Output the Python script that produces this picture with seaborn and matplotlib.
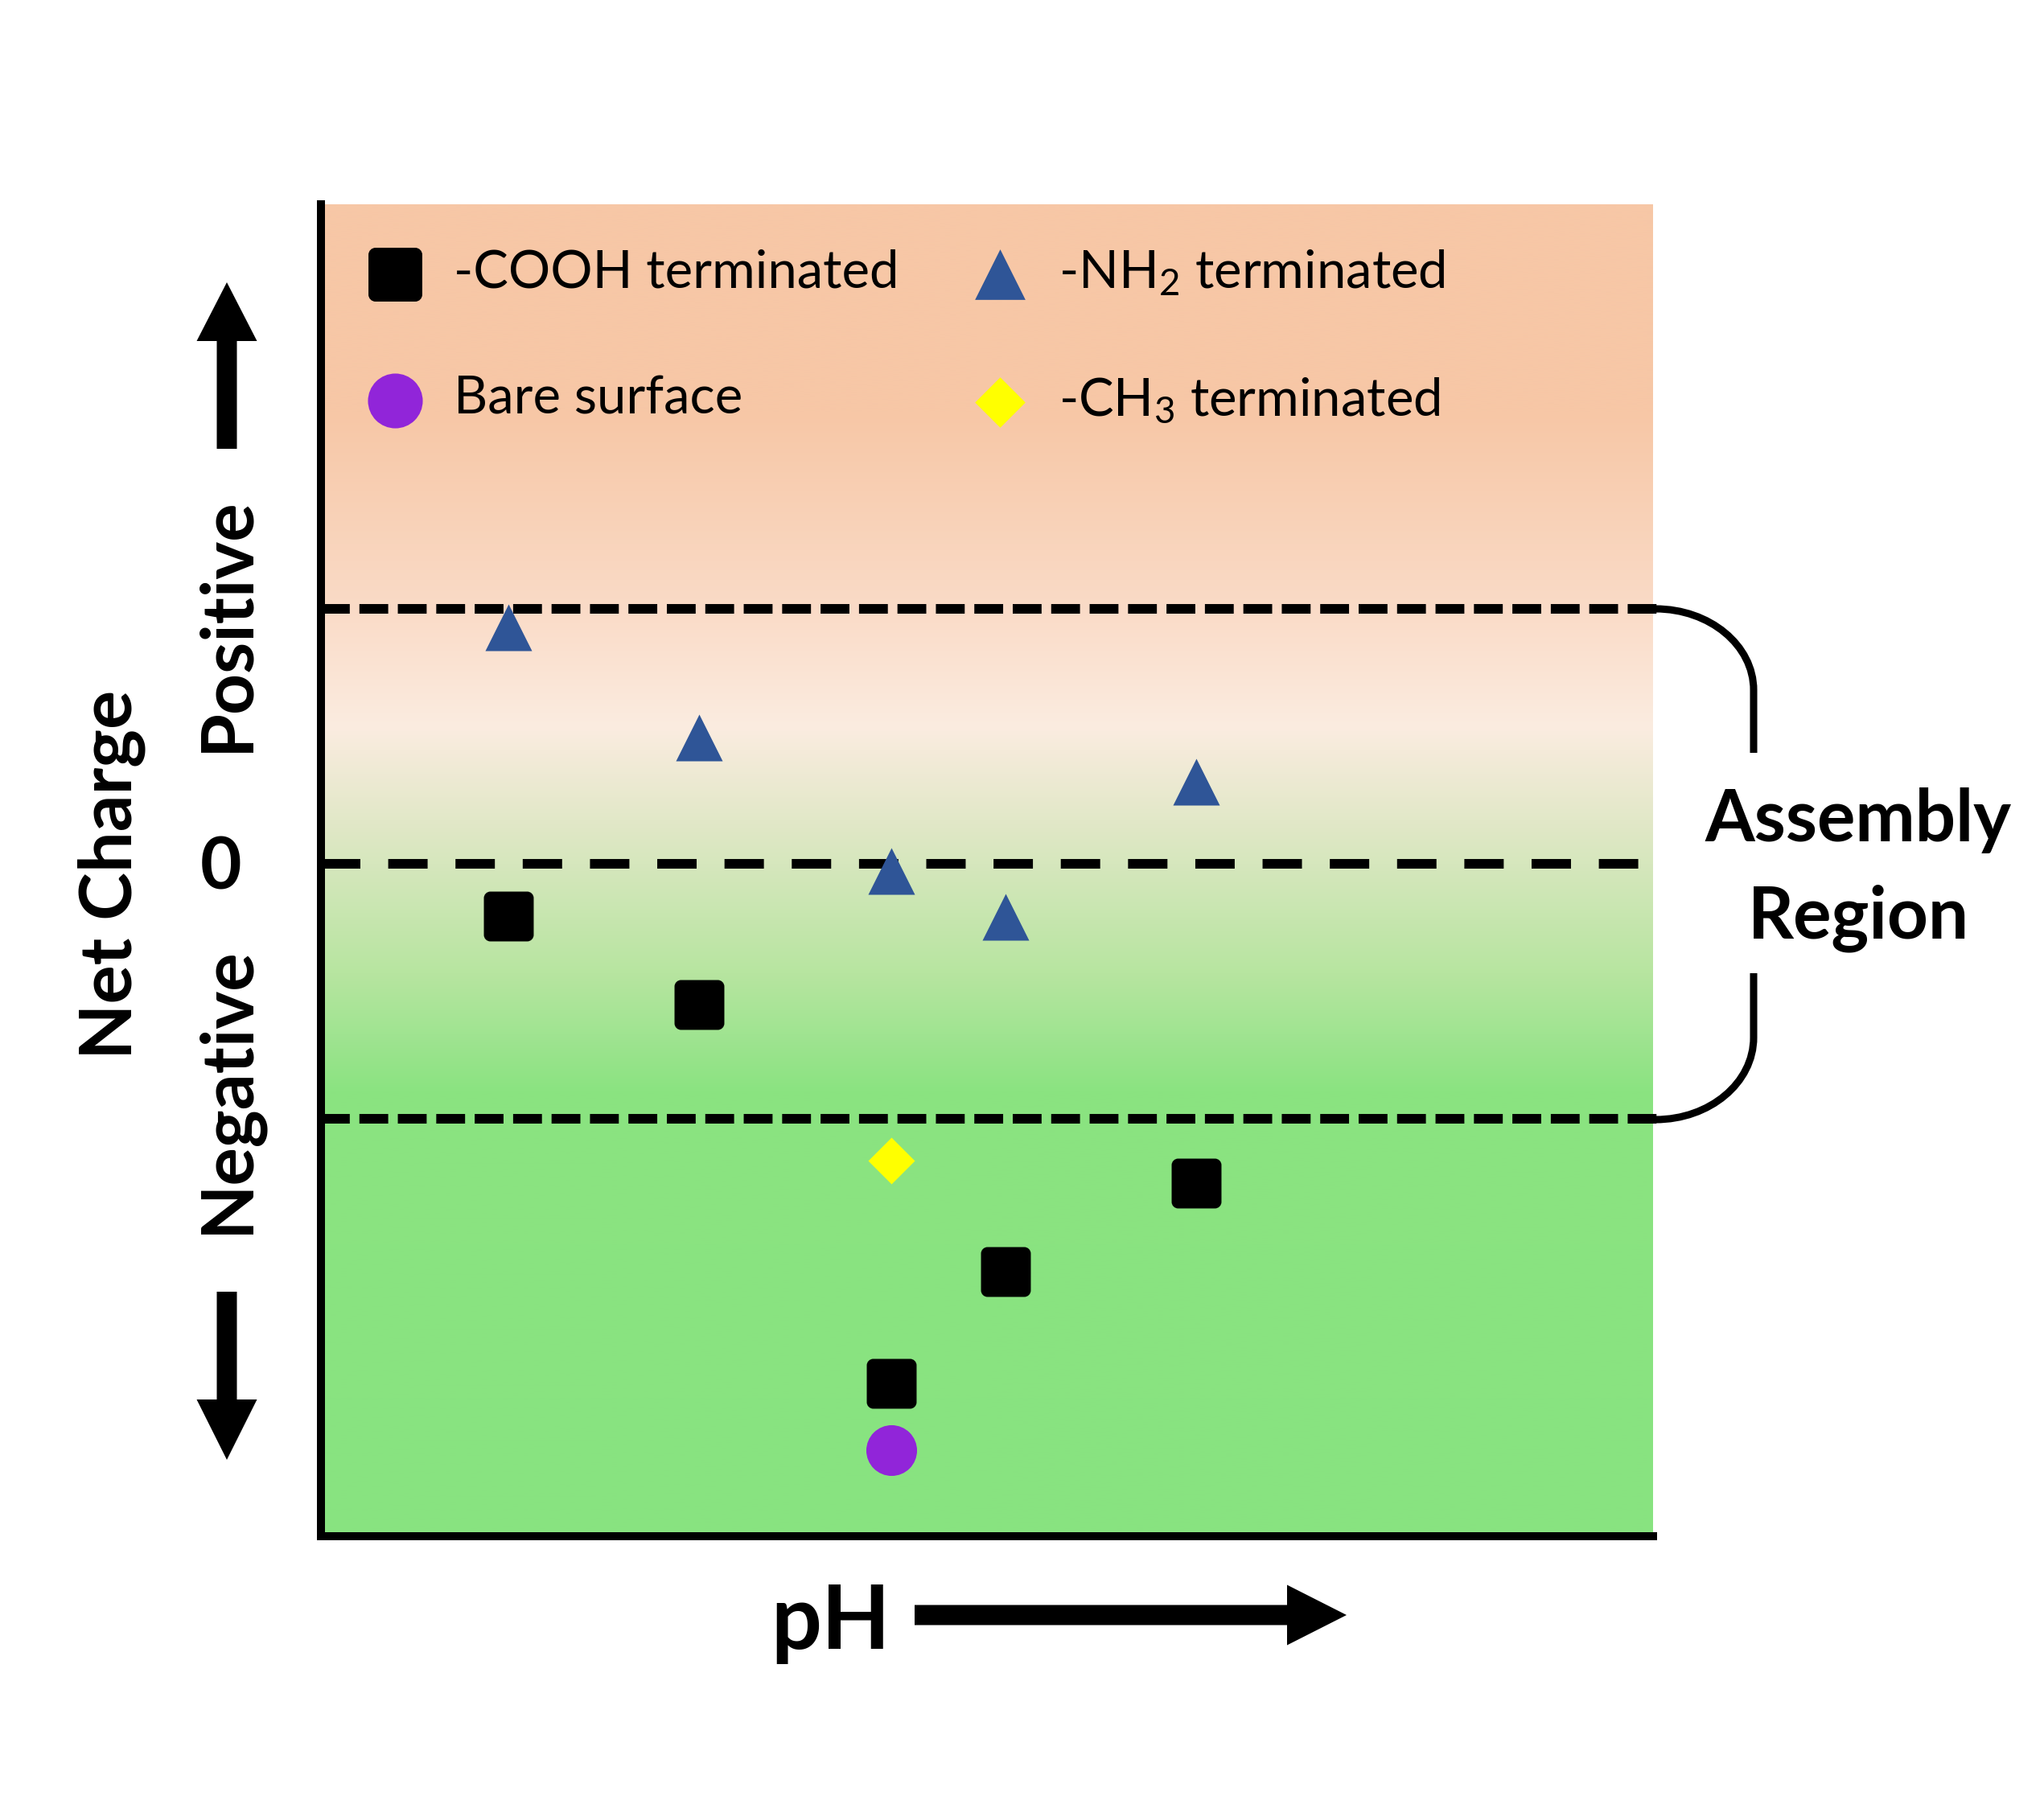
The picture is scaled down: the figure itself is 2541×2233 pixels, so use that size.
import numpy as np
import matplotlib
matplotlib.use("Agg")
import matplotlib.pyplot as plt
import seaborn as sns
from matplotlib.path import Path
from matplotlib.patches import PathPatch, FancyArrow

# ---------------- data ----------------
cooh_x = [1.41, 2.84, 4.28, 5.14, 6.57]
cooh_y = [-0.205, -0.552, -2.038, -1.599, -1.252]
nh2_x = [1.41, 2.84, 4.28, 5.14, 6.57]
nh2_y = [0.927, 0.495, -0.028, -0.207, 0.322]
bare_x = [4.28]
bare_y = [-2.301]
ch3_x = [4.28]
ch3_y = [-1.164]
ref_lines = [1.0, 0.0, -1.0]
labels = ["-COOH terminated", "Bare surface", r"-NH$_2$ terminated", r"-CH$_3$ terminated"]

# background gradient stops (y in data units, rgb)
grad_y = [2.60, 1.77, 1.0, 0.536, 0.17, 0.0, -0.43, -0.67, -0.89, -2.70]
grad_rgb = [(247, 199, 166), (247, 199, 166), (250, 219, 199), (251, 236, 224),
            (226, 232, 200), (214, 231, 189), (183, 229, 160), (160, 228, 145),
            (139, 227, 129), (136, 227, 128)]

W, H = 2541, 2233
DPI = 100

sns.set_theme(style="white")
plt.rcParams["font.family"] = ["Lato", "DejaVu Sans"]
plt.rcParams["text.color"] = "black"
plt.rcParams["mathtext.fontset"] = "custom"
plt.rcParams["mathtext.rm"] = "Lato"
plt.rcParams["mathtext.it"] = "Lato:italic"
plt.rcParams["mathtext.bf"] = "Lato:bold"
plt.rcParams["mathtext.default"] = "regular"

fig = plt.figure(figsize=(W / DPI, H / DPI), dpi=DPI)
fig.patch.set_facecolor("white")

L, R, T, B = 399, 2055, 254, 1910
ax = fig.add_axes([L / W, 1 - B / H, (R - L) / W, (B - T) / H])
ylo, yhi = (1074 - B) / 317.0, (1074 - T) / 317.0
ax.set_xlim(0, 10)
ax.set_ylim(ylo, yhi)

# gradient background
yy = np.linspace(yhi, ylo, 600)
gy = np.array(grad_y)[::-1]
cols = np.array(grad_rgb, dtype=float)[::-1] / 255.0
img = np.stack([np.interp(yy, gy, cols[:, c]) for c in range(3)], axis=-1)[:, None, :]
ax.imshow(img, extent=[0, 10, ylo, yhi], aspect="auto", zorder=0, interpolation="bilinear")

# dashed reference lines
ax.axhline(ref_lines[0], xmin=0, xmax=1.003, color="black", lw=8.6,
           linestyle=(0, (3.0, 1.0)), clip_on=False, zorder=2)
ax.axhline(ref_lines[1], xmin=0, xmax=0.99, color="black", lw=8.6,
           linestyle=(0, (4.1, 2.9)), clip_on=False, zorder=2)
ax.axhline(ref_lines[2], xmin=0, xmax=1.003, color="black", lw=8.6,
           linestyle=(0, (3.0, 1.0)), clip_on=False, zorder=2)

# rounded square marker
def rounded_square(r=0.26):
    k = 0.5523 * r
    v = [(-1 + r, -1), (1 - r, -1), (1 - r + k, -1), (1, -1 + r - k), (1, -1 + r),
         (1, 1 - r), (1, 1 - r + k), (1 - r + k, 1), (1 - r, 1),
         (-1 + r, 1), (-1 + r - k, 1), (-1, 1 - r + k), (-1, 1 - r),
         (-1, -1 + r), (-1, -1 + r - k), (-1 + r - k, -1), (-1 + r, -1), (-1 + r, -1)]
    c = [Path.MOVETO, Path.LINETO, Path.CURVE4, Path.CURVE4, Path.CURVE4,
         Path.LINETO, Path.CURVE4, Path.CURVE4, Path.CURVE4,
         Path.LINETO, Path.CURVE4, Path.CURVE4, Path.CURVE4,
         Path.LINETO, Path.CURVE4, Path.CURVE4, Path.CURVE4, Path.CLOSEPOLY]
    return Path(v, c)

sq = rounded_square()
sns.scatterplot(x=cooh_x, y=cooh_y, marker=sq, s=44.6 ** 2, color="black",
                linewidth=0, label=labels[0], ax=ax, zorder=5)
sns.scatterplot(x=bare_x, y=bare_y, marker="o", s=45.4 ** 2, color="#9125D9",
                linewidth=0, label=labels[1], ax=ax, zorder=5)
sns.scatterplot(x=nh2_x, y=nh2_y, marker="^", s=41.8 ** 2, color="#2F5597",
                linewidth=0, label=labels[2], ax=ax, zorder=5)
sns.scatterplot(x=ch3_x, y=ch3_y, marker="D", s=29.5 ** 2, color="#FFFF00",
                linewidth=0, label=labels[3], ax=ax, zorder=5)

leg = ax.legend(ncol=2, loc="upper left",
                bbox_to_anchor=((458 - L) / (R - L), (B - 308) / (B - T)),
                frameon=False, fontsize=47, handlelength=1.0, handletextpad=0.62,
                columnspacing=1.42, labelspacing=1.5, borderpad=0, borderaxespad=0,
                markerscale=1.08)
for t in leg.get_texts():
    t.set_color("black")

ax.set_xticks([])
ax.set_yticks([])
for s in ["top", "right"]:
    ax.spines[s].set_visible(False)
for s in ["left", "bottom"]:
    ax.spines[s].set_visible(True)
    ax.spines[s].set_color("black")
    ax.spines[s].set_linewidth(7.2)
    ax.spines[s].set_zorder(6)

# overlay in pixel coordinates for annotations
ov = fig.add_axes([0, 0, 1, 1], zorder=10)
ov.set_xlim(0, W)
ov.set_ylim(H, 0)
ov.axis("off")
ov.patch.set_alpha(0)

# bracket
k = 0.5523
x0, xv = 2058, 2180
top_p = Path([(x0, 757), (x0 + k * (xv - x0), 757), (xv, 858 - k * 101), (xv, 858), (xv, 936)],
             [Path.MOVETO, Path.CURVE4, Path.CURVE4, Path.CURVE4, Path.LINETO])
bot_p = Path([(xv, 1210), (xv, 1290), (xv, 1290 + k * 102), (x0 + k * (xv - x0), 1392), (x0, 1392)],
             [Path.MOVETO, Path.LINETO, Path.CURVE4, Path.CURVE4, Path.CURVE4])
for p in (top_p, bot_p):
    ov.add_patch(PathPatch(p, fill=False, lw=6.5, edgecolor="black", capstyle="butt"))

ov.text(2310, 1046, "Assembly", ha="center", va="baseline", fontsize=64, fontweight="bold")
ov.text(2310, 1166, "Region", ha="center", va="baseline", fontsize=64, fontweight="bold")

# arrows
ov.add_patch(FancyArrow(282, 558, 0, -207, width=25, head_width=75, head_length=73,
                        length_includes_head=True, color="black", lw=0))
ov.add_patch(FancyArrow(282, 1606, 0, 209, width=25, head_width=75, head_length=75,
                        length_includes_head=True, color="black", lw=0))
ov.add_patch(FancyArrow(1137, 2008, 537, 0, width=25, head_width=75, head_length=74,
                        length_includes_head=True, color="black", lw=0))

ov.text(1033, 2050, "pH", ha="center", va="baseline", fontsize=80, fontweight="bold")

# y-axis labels
ov.text(163, 1087, "Net Charge", rotation=90, rotation_mode="anchor", ha="center",
        va="baseline", fontsize=65, fontweight="bold")
ov.text(308, 776, "Positive", rotation=90, rotation_mode="anchor", ha="center",
        va="baseline", fontsize=64, fontweight="bold")
ov.text(275, 1106, "0", ha="center", va="baseline", fontsize=64, fontweight="bold")
ov.text(308, 1355, "Negative", rotation=90, rotation_mode="anchor", ha="center",
        va="baseline", fontsize=64, fontweight="bold")

fig.savefig("out.png", dpi=DPI, facecolor="white")
